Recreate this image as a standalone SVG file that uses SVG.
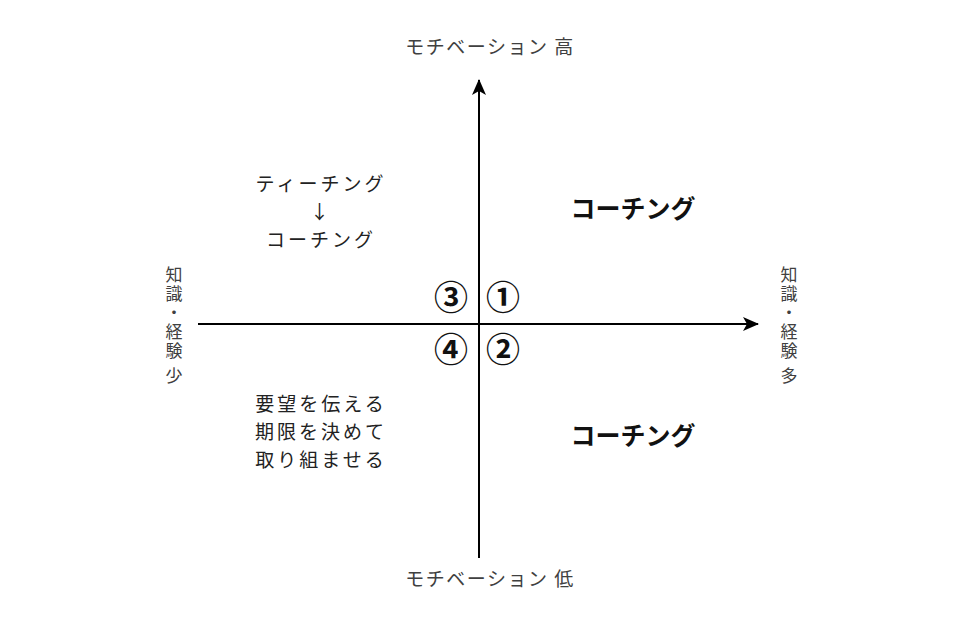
<svg xmlns="http://www.w3.org/2000/svg" width="960" height="640" viewBox="0 0 960 640">
<style>
.ax{font-family:"Noto Sans CJK JP","Noto Sans",sans-serif;font-size:19px;letter-spacing:1.5px;fill:#404040;text-anchor:middle}
.vt{font-family:"Noto Sans CJK JP","Noto Sans",sans-serif;font-size:17px;letter-spacing:2px;fill:#404040;writing-mode:vertical-rl;text-anchor:start}
.body{font-family:"Noto Sans CJK JP","Noto Sans",sans-serif;font-size:19px;letter-spacing:3px;fill:#222;text-anchor:middle}
.bold{font-family:"Noto Sans CJK JP","Noto Sans",sans-serif;font-size:25px;font-weight:bold;fill:#111;text-anchor:middle}
.num{font-family:"Noto Sans CJK JP","Noto Sans",sans-serif;font-size:34px;font-weight:bold;fill:#111;text-anchor:middle}
.axis{stroke:#000;stroke-width:2;fill:none}
</style>
<defs>
<marker id="arr" viewBox="0 0 16 14" refX="15" refY="7" markerWidth="16" markerHeight="14" markerUnits="userSpaceOnUse" orient="auto">
<path d="M0,0 L16,7 L0,14 L4,7 Z" fill="#000"/>
</marker>
</defs>
<rect width="960" height="640" fill="#fff"/>
<g id="connectors">
<line class="axis" x1="479" y1="558" x2="479" y2="80" marker-end="url(#arr)"/>
<line class="axis" x1="198" y1="324" x2="758" y2="324" marker-end="url(#arr)"/>
</g>
<g id="label-top"><text class="ax" x="490" y="54">モチベーション 高</text></g>
<g id="label-bottom"><text class="ax" x="490" y="586">モチベーション 低</text></g>
<g id="label-left"><text class="vt" x="174" y="266">知識・経験 少</text></g>
<g id="label-right"><text class="vt" x="789" y="266">知識・経験 多</text></g>
<g id="q1-num"><text class="num" x="503" y="310">①</text></g>
<g id="q2-num"><text class="num" x="503" y="362">②</text></g>
<g id="q3-num"><text class="num" x="451" y="310">③</text></g>
<g id="q4-num"><text class="num" x="451" y="362">④</text></g>
<g id="q3-text">
<text class="body"><tspan x="321" y="191">ティーチング</tspan><tspan x="321" y="219">↓</tspan><tspan x="321" y="247">コーチング</tspan></text>
</g>
<g id="q4-text">
<text class="body"><tspan x="321" y="411">要望を伝える</tspan><tspan x="321" y="439">期限を決めて</tspan><tspan x="321" y="467">取り組ませる</tspan></text>
</g>
<g id="q1-text"><text class="bold" x="633" y="218">コーチング</text></g>
<g id="q2-text"><text class="bold" x="633" y="445">コーチング</text></g>
</svg>
